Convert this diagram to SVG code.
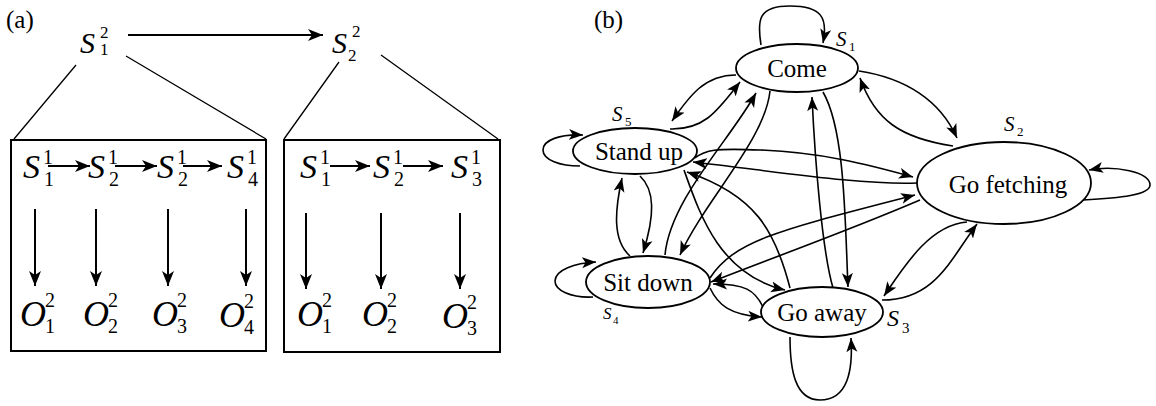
<svg xmlns="http://www.w3.org/2000/svg" width="1156" height="406" viewBox="0 0 1156 406" font-family="'Liberation Serif', 'DejaVu Serif', serif">
<style>
text{font-family:'Liberation Serif','DejaVu Serif',serif;fill:#000}
.it{font-style:italic}
.big{font-size:34px}
.top{font-size:30px}
.o{font-size:36px}
.idx{font-size:20px}
.tidx{font-size:17px}
.lbl{font-size:25px}
.nl{font-size:25px;text-anchor:middle}
.ln{fill:none;stroke:#000;stroke-width:1.3}
.box{fill:none;stroke:#000;stroke-width:2}
.aa{fill:none;stroke:#000;stroke-width:2;marker-end:url(#ma)}
.e{fill:#fff;stroke:#000;stroke-width:1.8}
.c{fill:none;stroke:#000;stroke-width:1.6;marker-end:url(#mb)}
.s{font-size:21px;font-style:italic}
.sub{font-size:13px}
</style>
<defs>
<marker id="ma" markerUnits="userSpaceOnUse" markerWidth="16" markerHeight="12" refX="15" refY="6" orient="auto"><path d="M0,0 L15,6 L0,12 L4,6 z" fill="#000"/></marker>
<marker id="mb" markerUnits="userSpaceOnUse" markerWidth="15" markerHeight="12" refX="14" refY="6" orient="auto"><path d="M0,0.5 L14,6 L0,11.5 L3.5,6 z" fill="#000"/></marker>
</defs>

<!-- Part (a) -->
<text class="lbl" x="6" y="28">(a)</text>

<g id="a-top">
<text class="it top" x="80" y="53">S</text><text class="tidx" x="100" y="38">2</text><text class="tidx" x="100" y="55">1</text>
<text class="it top" x="332" y="53">S</text><text class="tidx" x="352" y="37">2</text><text class="tidx" x="348" y="61">2</text>
</g>
<g id="a-connectors">
<path class="aa" d="M128,35 L323,35"/>
<path class="ln" d="M76,65 L14,139 M126,56 L266,139 M339,62 L284,139 M381,55 L498,139"/>
</g>

<g id="box1">
<rect class="box" x="11" y="140" width="255" height="211"/>
<text class="it big" x="23" y="178">S</text><text class="idx" x="43" y="164">1</text><text class="idx" x="44" y="186">1</text>
<text class="it big" x="88" y="178">S</text><text class="idx" x="108" y="164">1</text><text class="idx" x="109" y="186">2</text>
<text class="it big" x="157" y="178">S</text><text class="idx" x="177" y="164">1</text><text class="idx" x="178" y="186">2</text>
<text class="it big" x="227" y="178">S</text><text class="idx" x="247" y="164">1</text><text class="idx" x="248" y="186">4</text>
<path class="aa" d="M48,166 L90,166"/>
<path class="aa" d="M115,166 L157,166"/>
<path class="aa" d="M183,166 L222,166"/>
<path class="aa" d="M35,209 L35,286"/>
<path class="aa" d="M96,209 L96,286"/>
<path class="aa" d="M168,209 L168,286"/>
<path class="aa" d="M246,209 L246,286"/>
<text class="it o" x="20" y="326">O</text><text class="idx" x="45" y="307">2</text><text class="idx" x="45" y="333">1</text>
<text class="it o" x="83" y="326">O</text><text class="idx" x="108" y="307">2</text><text class="idx" x="108" y="333">2</text>
<text class="it o" x="152" y="326">O</text><text class="idx" x="177" y="307">2</text><text class="idx" x="177" y="333">3</text>
<text class="it o" x="219" y="327">O</text><text class="idx" x="244" y="308">2</text><text class="idx" x="244" y="334">4</text>
</g>

<g id="box2">
<rect class="box" x="284" y="140" width="216" height="212"/>
<text class="it big" x="300" y="178">S</text><text class="idx" x="320" y="164">1</text><text class="idx" x="321" y="186">1</text>
<text class="it big" x="373" y="178">S</text><text class="idx" x="393" y="164">1</text><text class="idx" x="394" y="186">2</text>
<text class="it big" x="451" y="178">S</text><text class="idx" x="471" y="164">1</text><text class="idx" x="472" y="186">3</text>
<path class="aa" d="M330,166 L370,166"/>
<path class="aa" d="M403,166 L443,166"/>
<path class="aa" d="M306,213 L306,289"/>
<path class="aa" d="M381,213 L381,289"/>
<path class="aa" d="M460,213 L460,289"/>
<text class="it o" x="297" y="326">O</text><text class="idx" x="322" y="307">2</text><text class="idx" x="322" y="333">1</text>
<text class="it o" x="362" y="326">O</text><text class="idx" x="387" y="307">2</text><text class="idx" x="387" y="333">2</text>
<text class="it o" x="442" y="328">O</text><text class="idx" x="467" y="309">2</text><text class="idx" x="467" y="335">3</text>
</g>

<!-- Part (b) -->
<text class="lbl" x="594" y="28">(b)</text>

<g id="b-connectors">
<path class="c" d="M761,45 C757,20 758,6 790,6 C822,6 828,18 823,43"/>
<path class="c" d="M580,166 C560,166 543,160 543,150 C543,140 560,134 583,135"/>
<path class="c" d="M593,297 C570,298 555,290 555,281 C555,270 575,263 596,262"/>
<path class="c" d="M1083,200 C1120,198 1150,195 1150,185 C1150,172 1115,165 1089,170"/>
<path class="c" d="M790,337 C790,370 795,400 820,400 C848,400 853,370 851,338"/>
<path class="c" d="M736,75 C705,75 690,95 672,121"/>
<path class="c" d="M670,129 C705,130 718,110 740,82"/>
<path class="c" d="M859,71 C905,78 940,100 957,138"/>
<path class="c" d="M953,146 C900,138 875,120 860,78"/>
<path class="c" d="M665,255 C670,200 730,140 756,93"/>
<path class="c" d="M770,91 C765,140 705,200 680,255"/>
<path class="c" d="M833,288 C822,250 815,160 812,97"/>
<path class="c" d="M823,92 C845,130 845,220 848,287"/>
<path class="c" d="M630,256 C612,240 615,210 622,178"/>
<path class="c" d="M640,176 C655,190 655,215 643,253"/>
<path class="c" d="M684,170 C700,215 720,275 785,290"/>
<path class="c" d="M790,288 C775,230 755,195 687,172"/>
<path class="c" d="M695,158 C705,150 715,148 760,150 C820,152 870,165 913,177"/>
<path class="c" d="M917,183 C860,185 780,172 693,162"/>
<path class="c" d="M710,278 C735,240 780,230 915,195"/>
<path class="c" d="M920,200 C850,230 780,255 711,282"/>
<path class="c" d="M710,288 C718,305 730,315 762,317"/>
<path class="c" d="M763,307 C755,290 745,284 713,284"/>
<path class="c" d="M882,300 C935,300 950,260 977,224"/>
<path class="c" d="M967,222 C930,225 905,265 884,296"/>
</g>

<g id="come">
<ellipse class="e" cx="797" cy="68" rx="61" ry="24"/>
<text class="nl" x="797" y="77">Come</text>
<text class="s" x="836" y="46">S</text><text class="sub" x="849" y="51">1</text>
</g>
<g id="standup">
<ellipse class="e" cx="635" cy="151" rx="62" ry="23"/>
<text class="nl" x="639" y="160">Stand up</text>
<text class="s" x="612" y="121">S</text><text class="sub" x="625" y="126">5</text>
</g>
<g id="gofetching">
<ellipse class="e" cx="1004" cy="183" rx="87" ry="41"/>
<text class="nl" x="1008" y="193">Go fetching</text>
<text class="s" x="1004" y="131">S</text><text class="sub" x="1017" y="136">2</text>
</g>
<g id="sitdown">
<ellipse class="e" cx="648" cy="282" rx="62" ry="26"/>
<text class="nl" x="648" y="291">Sit down</text>
<text class="it" x="603" y="319" style="font-size:17px">S</text><text class="sub" x="613" y="324" style="font-size:11px">4</text>
</g>
<g id="goaway">
<ellipse class="e" cx="822" cy="312" rx="61" ry="25"/>
<text class="nl" x="822" y="321">Go away</text>
<text class="it" x="887" y="326" style="font-size:24px">S</text><text class="sub" x="902" y="333" style="font-size:15px">3</text>
</g>
</svg>
